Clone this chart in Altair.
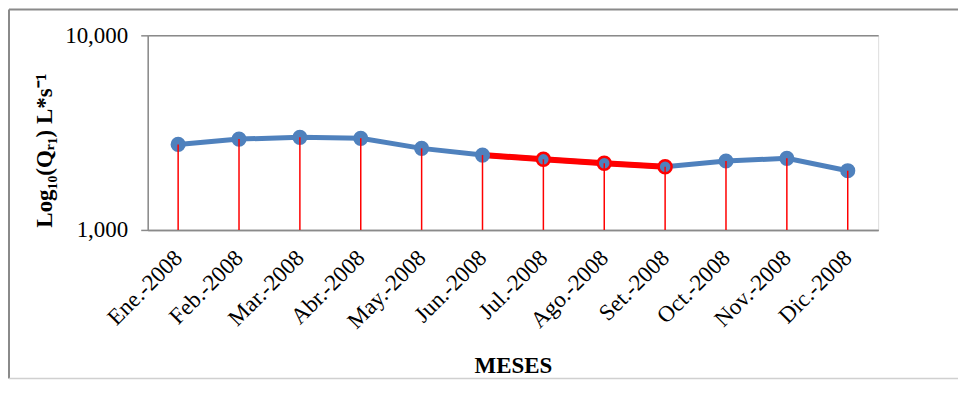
import altair as alt
import pandas as pd

meses = ["Ene.-2008", "Feb.-2008", "Mar.-2008", "Abr.-2008", "May.-2008", "Jun.-2008",
         "Jul.-2008", "Ago.-2008", "Set.-2008", "Oct.-2008", "Nov.-2008", "Dic.-2008"]
caudal = [2750, 2930, 2990, 2955, 2625, 2425, 2305, 2200, 2112, 2260, 2332, 2015]
tramo_rojo = ["Jun.-2008", "Jul.-2008", "Ago.-2008", "Set.-2008"]
marcas_rojas = ["Jul.-2008", "Ago.-2008", "Set.-2008"]
y_ticks = [1000, 10000]

FONT = "Liberation Serif"
BLUE = "#4f81bd"
RED = "#ff0000"
GRAY = "#8a8a8a"

df = pd.DataFrame({"mes": meses, "q": caudal})
df["base"] = 1000
df["rojo"] = df["mes"].isin(tramo_rojo)
df["marca_roja"] = df["mes"].isin(marcas_rojas)

x_enc = alt.X("mes:N", sort=meses, scale=alt.Scale(type="point", padding=0.5),
              axis=alt.Axis(title="MESES", labelAngle=-45, labelAlign="right",
                            labelBaseline="middle", labelPadding=24, ticks=False,
                            domainColor=GRAY, domainWidth=1.5, titlePadding=22,
                            labelFontSize=23, titleFontSize=23, titleFontWeight="bold",
                            labelColor="black", titleColor="black"))
y_enc = alt.Y("q:Q", scale=alt.Scale(type="log", domain=[1000, 10000], nice=False),
              axis=alt.Axis(title="Log₁₀(Qᵣ₁) L*s⁻¹", values=y_ticks, format=",",
                            grid=True, gridColor=GRAY, gridWidth=1.5,
                            domainColor=GRAY, domainWidth=1.5, tickColor=GRAY,
                            tickWidth=1.5, tickSize=7, labelPadding=13,
                            labelFontSize=23, titleFontSize=23, titleFontWeight="bold",
                            labelColor="black", titleColor="black",
                            titleX=-103, titleY=115, titleAngle=-90,
                            titleAlign="center", titleBaseline="middle"))

base = alt.Chart(df)

linea_azul = base.mark_line(color=BLUE, strokeWidth=5).encode(x=x_enc, y=y_enc)
linea_roja = base.transform_filter("datum.rojo").mark_line(color=RED, strokeWidth=6).encode(
    x=x_enc, y=y_enc)
puntos = base.transform_filter("!datum.marca_roja").mark_point(
    filled=True, color=BLUE, size=230, opacity=1).encode(x=x_enc, y=y_enc)
puntos_rojos = base.transform_filter("datum.marca_roja").mark_point(
    filled=True, fill=BLUE, stroke=RED, strokeWidth=2.5, size=170, opacity=1).encode(
    x=x_enc, y=y_enc)
reglas = base.mark_rule(color=RED, strokeWidth=1.5).encode(
    x=x_enc, y=alt.Y("base:Q"), y2=alt.Y2("q:Q"))

marco = alt.Data(values=[{}])
borde_sup = alt.Chart(marco).mark_rule(color=GRAY, strokeWidth=2).encode(
    x=alt.value(-139), x2=alt.value(840), y=alt.value(-26))
borde_izq = alt.Chart(marco).mark_rule(color=GRAY, strokeWidth=2).encode(
    x=alt.value(-139), y=alt.value(-26), y2=alt.value(344))
borde_inf = alt.Chart(marco).mark_rule(color="#d0d0d0", strokeWidth=1.5).encode(
    x=alt.value(-139), x2=alt.value(840), y=alt.value(344))

chart = alt.layer(borde_sup, borde_izq, borde_inf, linea_azul, linea_roja, puntos,
                  puntos_rojos, reglas).properties(
    width=732, height=195,
    padding={"left": 140, "top": 27, "right": 80, "bottom": 150},
    autosize=alt.AutoSizeParams(type="none"),
).configure_view(stroke=None).configure(font=FONT, background="white")

chart.save("out.html", embed_options={"renderer": "svg", "actions": False})
